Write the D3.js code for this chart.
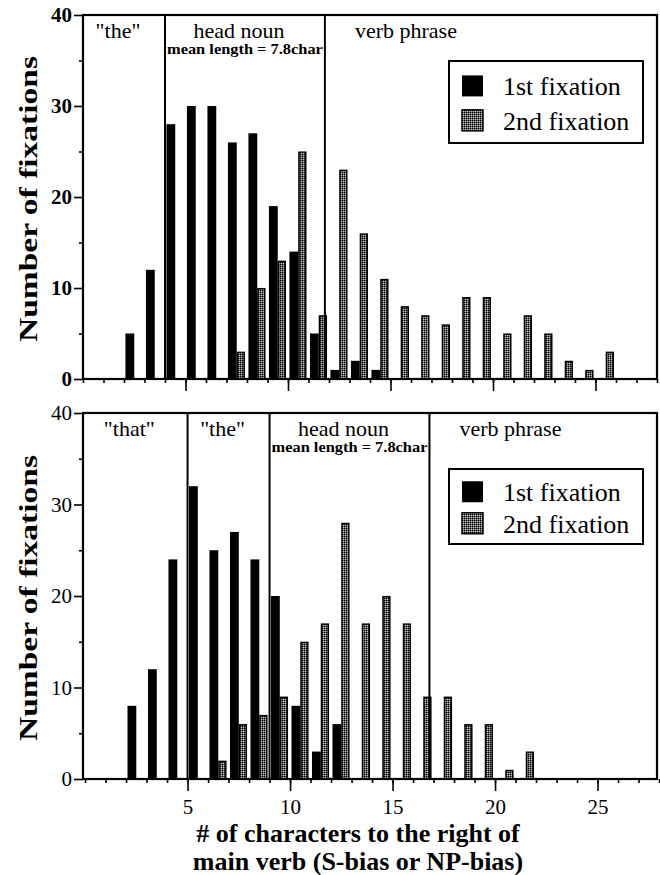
<!DOCTYPE html>
<html>
<head>
<meta charset="utf-8">
<script src="https://cdn.jsdelivr.net/npm/d3@7"></script>
<style>
	body { margin: 0; background: #fff; }
	svg { display: block; font-family: "Liberation Serif", "Times New Roman", serif; }
</style>
</head>
<body>
<svg id="canvas" width="660" height="875"></svg>
<script>
// top panel (S-bias): 1st and 2nd fixation counts by character position
const topFirstX = [2, 3, 4, 5, 6, 7, 8, 9, 10, 11, 12, 13, 14];
const topFirst = [5, 12, 28, 30, 30, 26, 27, 19, 14, 5, 1, 2, 1];
const topSecondX = [7, 8, 9, 10, 11, 12, 13, 14, 15, 16, 17, 18, 19, 20, 21, 22, 23, 24, 25];
const topSecond = [3, 10, 13, 25, 7, 23, 16, 11, 8, 7, 6, 9, 9, 5, 7, 5, 2, 1, 3];

// bottom panel (NP-bias)
const botFirstX = [2, 3, 4, 5, 6, 7, 8, 9, 10, 11, 12];
const botFirst = [8, 12, 24, 32, 25, 27, 24, 20, 8, 3, 6];
const botSecondX = [6, 7, 8, 9, 10, 11, 12, 13, 14, 15, 16, 17, 18, 19, 20, 21];
const botSecond = [2, 6, 7, 9, 15, 17, 28, 17, 20, 17, 9, 9, 6, 6, 1, 3];

// region boundaries (characters) and their labels
const topBounds = [4, 11.8];
const topRegions = ['"the"', "head noun", "verb phrase"];
const botBounds = [5, 9, 16.8];
const botRegions = ['"that"', '"the"', "head noun", "verb phrase"];
const meanLabel = "mean length = 7.8char";

const xTicks = [5, 10, 15, 20, 25];
const yTicks = [0, 10, 20, 30, 40];
const yMinor = [5, 15, 25, 35];
const legendLabels = ["1st fixation", "2nd fixation"];

const svg = d3.select("#canvas");

// dithered fill for the 2nd fixation bars
const pat = svg.append("defs").append("pattern")
	.attr("id", "dots")
	.attr("width", 2).attr("height", 2)
	.attr("patternUnits", "userSpaceOnUse");
pat.append("rect").attr("width", 2).attr("height", 2).attr("fill", "#5a5a5a");
pat.append("rect").attr("width", 1).attr("height", 1).attr("fill", "#000");
pat.append("rect").attr("x", 1).attr("y", 1).attr("width", 1).attr("height", 1).attr("fill", "#c4c4c4");

function drawPanel(p) {
	const x = d3.scaleLinear().domain(p.xDomain).range([83, 657]);
	const y = d3.scaleLinear().domain([0, 40]).range([p.bottom, p.top]);
	const g = svg.append("g");

	// bars
	const first = p.firstX.map((k, i) => ({k: k, v: p.first[i]}));
	const second = p.secondX.map((k, i) => ({k: k, v: p.second[i]}));

	g.selectAll(".b1").data(first).enter().append("rect")
		.attr("x", d => x(d.k + 0.07))
		.attr("width", d => x(d.k + 0.5) - x(d.k + 0.07))
		.attr("y", d => y(d.v))
		.attr("height", d => y(0) - y(d.v))
		.attr("fill", "#000");

	g.selectAll(".b2").data(second).enter().append("rect")
		.attr("x", d => x(d.k + 0.5) + 0.7)
		.attr("width", d => x(d.k + 0.9) - x(d.k + 0.5) - 1.4)
		.attr("y", d => y(d.v) + 0.7)
		.attr("height", d => Math.max(0, y(0) - y(d.v) - 0.7))
		.attr("fill", "url(#dots)")
		.attr("stroke", "#000")
		.attr("stroke-width", 1.5);

	// frame
	g.append("rect")
		.attr("x", x.range()[0]).attr("y", y(40))
		.attr("width", x.range()[1] - x.range()[0])
		.attr("height", y(0) - y(40))
		.attr("fill", "none").attr("stroke", "#000").attr("stroke-width", 2.2);

	// region lines
	g.selectAll(".bound").data(p.bounds).enter().append("line")
		.attr("x1", d => x(d)).attr("x2", d => x(d))
		.attr("y1", y(40)).attr("y2", y(0))
		.attr("stroke", "#000").attr("stroke-width", 2);

	const edges = [p.xDomain[0]].concat(p.bounds);
	p.regions.forEach((lab, i) => {
		const a = x(edges[i]);
		const last = i === p.regions.length - 1;
		const b = last ? null : x(edges[i + 1]);
		g.append("text")
			.attr("x", last ? a + 30 : (a + b) / 2 - 6)
			.attr("y", y(40) + 23)
			.attr("text-anchor", last ? "start" : "middle")
			.attr("font-size", 22)
			.text(lab);
		if (lab === "head noun") {
			g.append("text")
				.attr("x", (a + b) / 2)
				.attr("y", y(40) + 39)
				.attr("text-anchor", "middle")
				.attr("font-size", 14)
				.attr("font-weight", "bold")
				.attr("textLength", b - a - 4)
				.attr("lengthAdjust", "spacingAndGlyphs")
				.text(meanLabel);
		}
	});

	// y axis
	g.append("g").attr("transform", "translate(83,0)")
		.call(d3.axisLeft(y).tickValues(yTicks).tickSize(9).tickPadding(2));
	g.append("g").attr("transform", "translate(83,0)")
		.call(d3.axisLeft(y).tickValues(yMinor).tickSize(4).tickFormat(""));

	// x axis
	g.append("g").attr("transform", "translate(0," + y(0) + ")")
		.call(d3.axisBottom(x).tickValues(d3.range(Math.ceil(p.xDomain[0]), 29)).tickSize(4).tickFormat(""));
	g.append("g").attr("transform", "translate(0," + y(0) + ")")
		.call(d3.axisBottom(x).tickValues(xTicks).tickSize(12).tickPadding(8)
			.tickFormat(p.xLabels ? d3.format("d") : ""));

	g.selectAll(".domain").remove();
	g.selectAll(".tick line").attr("stroke", "#000").attr("stroke-width", 1.6);
	g.selectAll(".tick text")
		.attr("font-family", "Liberation Serif, serif")
		.attr("font-size", 21)
		.attr("font-weight", p.boldTicks ? "bold" : "normal")
		.attr("fill", "#000");

	// y title
	g.append("text")
		.attr("transform", "translate(37," + ((y(0) + y(40)) / 2 + 2) + ") rotate(-90)")
		.attr("text-anchor", "middle")
		.attr("font-size", 26)
		.attr("font-weight", "bold")
		.attr("textLength", 286)
		.attr("lengthAdjust", "spacingAndGlyphs")
		.text("Number  of  fixations");

	// legend
	const lx = 449, ly = y(40) + p.legendTop;
	g.append("rect")
		.attr("x", lx).attr("y", ly).attr("width", 194).attr("height", p.legendH)
		.attr("fill", "#fff").attr("stroke", "#000").attr("stroke-width", 2);
	legendLabels.forEach((lab, i) => {
		const cy = ly + p.legendH * (i === 0 ? 0.31 : 0.73);
		g.append("rect")
			.attr("x", lx + 13).attr("y", cy - 11).attr("width", 21).attr("height", 21)
			.attr("fill", i === 0 ? "#000" : "url(#dots)")
			.attr("stroke", "#000").attr("stroke-width", i === 0 ? 0 : 1.5);
		g.append("text")
			.attr("x", lx + 54).attr("y", cy + 9)
			.attr("font-size", 26)
			.text(lab);
	});
}

drawPanel({
	top: 15, bottom: 379, xDomain: [0, 28],
	firstX: topFirstX, first: topFirst, secondX: topSecondX, second: topSecond,
	bounds: topBounds, regions: topRegions,
	legendTop: 46, legendH: 82, xLabels: false, boldTicks: true
});

drawPanel({
	top: 413, bottom: 779, xDomain: [-0.1, 27.9],
	firstX: botFirstX, first: botFirst, secondX: botSecondX, second: botSecond,
	bounds: botBounds, regions: botRegions,
	legendTop: 56, legendH: 75, xLabels: true, boldTicks: false
});

// x title
const xt = svg.append("text")
	.attr("x", 358).attr("y", 842)
	.attr("text-anchor", "middle")
	.attr("font-size", 26)
	.attr("font-weight", "bold");
xt.append("tspan").attr("x", 358).text("# of characters to the right of");
xt.append("tspan").attr("x", 358).attr("dy", 28).text("main verb (S-bias or NP-bias)");
</script>
</body>
</html>
